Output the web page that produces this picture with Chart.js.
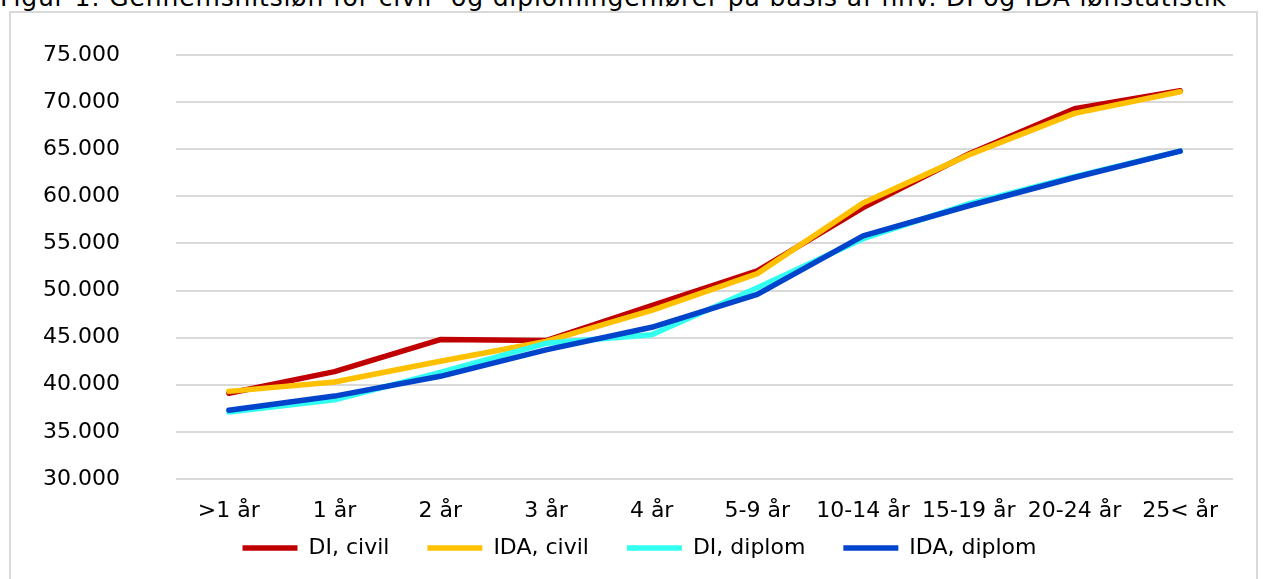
<!DOCTYPE html>
<html>
<head>
<meta charset="utf-8">
<script src="https://cdn.jsdelivr.net/npm/chart.js@4.4.1/dist/chart.umd.min.js"></script>
<style>
  html, body { margin: 0; padding: 0; background: #fff; overflow: hidden; width: 1263px; height: 579px; }
  #title { position: absolute; left: 0; top: -13px; font-family: "DejaVu Sans", sans-serif; font-size: 25px; letter-spacing: 0.85px; line-height: 22px; color: #000; white-space: nowrap; }
  #frame { position: absolute; left: 9px; top: 11px; width: 1249px; height: 620px; border: 2px solid #d9d9d9; box-sizing: border-box; }
  #wrap { position: absolute; left: 0; top: 0; width: 1263px; height: 600px; }
</style>
</head>
<body>
<div id="title">Figur 1: Gennemsnitsløn for civil- og diplomingeniører på basis af hhv. DI og IDA lønstatistik</div>
<div id="frame"></div>
<div id="wrap"><canvas id="c" width="1263" height="600"></canvas></div>
<script>
const categories = ['>1 år', '1 år', '2 år', '3 år', '4 år', '5-9 år', '10-14 år', '15-19 år', '20-24 år', '25< år'];
const diCivil   = [39100, 41400, 44800, 44700, 48400, 52100, 58800, 64500, 69300, 71200];
const idaCivil  = [39300, 40300, 42500, 44600, 47900, 51800, 59300, 64400, 68800, 71100];
const diDiplom  = [37100, 38400, 41300, 44400, 45300, 50300, 55500, 59200, 62100, 64800];
const idaDiplom = [37300, 38800, 40900, 43700, 46100, 49600, 55800, 59000, 62000, 64800];
const seriesNames = ['DI, civil', 'IDA, civil', 'DI, diplom', 'IDA, diplom'];
const seriesColors = ['#C00000', '#FFC000', '#33FFF0', '#0044CC'];
const yMin = 30000, yMax = 75000, yStep = 5000;

const fmt = v => String(v).replace(/\B(?=(\d{3})+(?!\d))/g, '.');
const FONT = '"DejaVu Sans", sans-serif';

const seriesData = [diCivil, idaCivil, diDiplom, idaDiplom];
const datasets = seriesData.map((d, i) => ({
  label: seriesNames[i],
  data: d,
  borderColor: seriesColors[i],
  backgroundColor: seriesColors[i],
  borderWidth: 5.5,
  borderCapStyle: 'round',
  borderJoinStyle: 'round',
  pointRadius: 0,
  pointHoverRadius: 0,
  tension: 0,
  fill: false,
  order: seriesData.length - i
}));

// move the legend row into the band below the category labels
const legendShift = {
  id: 'legendShift',
  afterLayout(chart) {
    const lg = chart.legend;
    if (!lg) return;
    const dy = 499 - lg.top;
    lg.top += dy;
    lg.bottom += dy;
    lg.left += 23;
    lg.right += 23;
  }
};

new Chart(document.getElementById('c'), {
  type: 'line',
  data: { labels: categories, datasets },
  plugins: [legendShift],
  options: {
    responsive: false,
    animation: false,
    events: [],
    layout: { padding: { top: 55, right: 30, bottom: 3, left: 0 } },
    plugins: {
      tooltip: { enabled: false },
      title: { display: false },
      legend: {
        position: 'bottom',
        labels: {
          usePointStyle: true,
          pointStyle: 'line',
          pointStyleWidth: 55,
          padding: 38,
          color: '#000',
          font: { family: FONT, size: 22 },
          sort: (a, b) => a.datasetIndex - b.datasetIndex
        }
      }
    },
    scales: {
      x: {
        offset: true,
        grid: { display: false, drawTicks: false },
        border: { display: false },
        ticks: { color: '#000', font: { family: FONT, size: 22 }, padding: 19, maxRotation: 0, autoSkip: false },
        afterFit: s => { s.height = 48; }
      },
      y: {
        min: yMin, max: yMax,
        grid: { color: '#d9d9d9', lineWidth: 2, drawTicks: false },
        border: { display: false },
        ticks: { stepSize: yStep, color: '#000', font: { family: FONT, size: 22 }, padding: 56, callback: v => fmt(v) },
        afterFit: s => { s.width = 176; s.paddingTop = 0; s.paddingBottom = 0; }
      }
    }
  }
});
</script>
</body>
</html>
